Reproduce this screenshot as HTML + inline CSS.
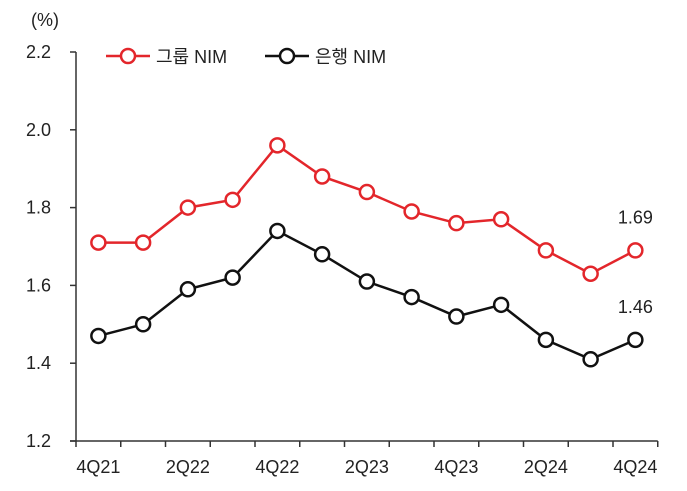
<!DOCTYPE html>
<html><head><meta charset="utf-8"><style>
body{margin:0;background:#fff}
svg text{font-family:"Liberation Sans","Noto Sans CJK KR",sans-serif;fill:#222}
</style></head><body>
<svg id="chart" width="687" height="486" xmlns="http://www.w3.org/2000/svg"></svg>
<script>
const categories=["4Q21","1Q22","2Q22","3Q22","4Q22","1Q23","2Q23","3Q23","4Q23","1Q24","2Q24","3Q24","4Q24"];
const groupNim=[1.71,1.71,1.80,1.82,1.96,1.88,1.84,1.79,1.76,1.77,1.69,1.63,1.69];
const bankNim=[1.47,1.50,1.59,1.62,1.74,1.68,1.61,1.57,1.52,1.55,1.46,1.41,1.46];
const yTicks=[1.2,1.4,1.6,1.8,2.0,2.2];
const xLabelIdx=[0,2,4,6,8,10,12];
const NS="http://www.w3.org/2000/svg";
const svg=document.getElementById('chart');
const x0=76,band=44.75,yTop=52,yBot=441,yMin=1.2,yMax=2.2;
const X=i=>x0+band*(i+0.5);
const Y=v=>yBot-(v-yMin)/(yMax-yMin)*(yBot-yTop);
function mk(t,a,p){const e=document.createElementNS(NS,t);for(const k in a)e.setAttribute(k,a[k]);(p||svg).appendChild(e);return e;}
let e;
e=mk('line',{x1:x0,y1:yTop,x2:x0,y2:yBot,stroke:'#333','stroke-width':1.5});


e=mk('line',{x1:70,y1:yBot,x2:x0+band*13,y2:yBot,stroke:'#333','stroke-width':1.5});


yTicks.forEach(v=>{
 e=mk('line',{x1:70,y1:Y(v),x2:x0,y2:Y(v),stroke:'#333','stroke-width':1.5});
 
 
 e=mk('text',{x:51,y:Y(v)+6,'text-anchor':'end','font-size':18});
 e.textContent=v.toFixed(1);
 
 
});
for(let i=0;i<=13;i++){
 e=mk('line',{x1:x0+band*i,y1:yBot,x2:x0+band*i,y2:yBot+6,stroke:'#333','stroke-width':1.5});
 
 
}
xLabelIdx.forEach(i=>{
 e=mk('text',{x:X(i),y:473,'text-anchor':'middle','font-size':18});
 e.textContent=categories[i];
 
 
});
e=mk('text',{x:31,y:26,'font-size':18});
e.textContent='(%)';


function series(vals,color,name){
 const g=mk('g',{});
 
 
 e=mk('polyline',{points:vals.map((v,i)=>X(i)+','+Y(v)).join(' '),fill:'none',stroke:color,'stroke-width':2.5},g);
 
 
 vals.forEach((v,i)=>{
  e=mk('circle',{cx:X(i),cy:Y(v),r:7,fill:'#fff',stroke:color,'stroke-width':2.5},g);
  
  
 });
 const last=vals.length-1;
 e=mk('text',{x:X(last),y:Y(vals[last])-27,'text-anchor':'middle','font-size':18},g);
 e.textContent=vals[last].toFixed(2);
 
 
}
series(groupNim,'#e3262b','group-nim');
series(bankNim,'#111','bank-nim');
function legend(x,color,label,name){
 const g=mk('g',{});
 
 
 mk('line',{x1:x,y1:56,x2:x+44,y2:56,stroke:color,'stroke-width':2.5},g);
 mk('circle',{cx:x+22,cy:56,r:7,fill:'#fff',stroke:color,'stroke-width':2.5},g);
 const t=mk('text',{x:x+50,y:63,'font-size':18},g);
 t.textContent=label;
}
legend(106,'#e3262b','그룹 NIM','legend-group-nim');
legend(265,'#111','은행 NIM','legend-bank-nim');
</script>
</body></html>
